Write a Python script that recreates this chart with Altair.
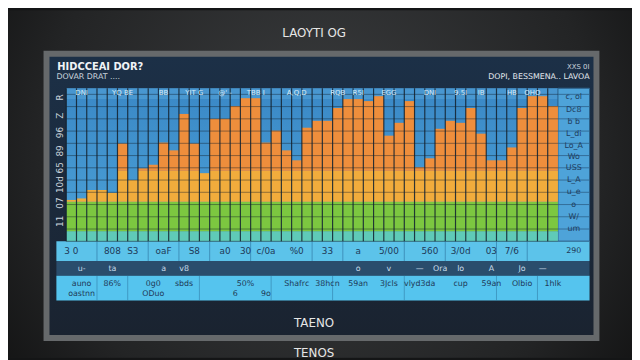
import altair as alt
import pandas as pd

# ---------------- data ----------------
categories = [f"B{i+1:02d}" for i in range(48)]
totals = [27, 28, 33.5, 33.5, 31.6, 63.9, 40, 47.7, 50, 64.5, 59.4, 83.2,
          63.9, 44.5, 80, 80, 88.4, 93.5, 93.5, 64.5, 72.3, 59.4, 52.9, 74.2,
          78.7, 78.7, 87.1, 92.9, 92.9, 91.6, 94.8, 69, 77.4, 91.6, 48.4, 54.2,
          73.5, 78.7, 77.4, 87.1, 70.3, 52.9, 52.9, 61.3, 87.1, 94.8, 94.8, 88.4]
teal_top = 6.5      # top of the teal base band
green_top = 25.8    # top of the green band
yellow_top = 46.0   # yellow -> orange change
grid_values = [0, 8, 16, 24, 32, 40, 48, 56, 64, 72, 80, 88, 96]

layer_names = ["teal", "green", "yellow", "orange"]
layer_colors = ["#5fcab8", "#7cc740", "#f1ac3c", "#ee8e3c"]

header_labels = ["DNI", "YQ BE", "BB", "YIT G", "@' -", "TBB I", "A,Q,D", "RQB",
                 "R5I", "EGG", "DNI", "9.5I", "IB", "HB", "OHO"]
header_cats = ["B02", "B06", "B10", "B13", "B16", "B19", "B23", "B27",
               "B29", "B32", "B36", "B39", "B41", "B44", "B46"]

row1_labels = ["3 0", "808", "S3", "oaF", "S8", "a0", "30", "c/0a", "%0",
               "33", "a", "5/00", "560", "3/0d", "03", "7/6"]
row1_cats = ["B01", "B05", "B07", "B10", "B13", "B16", "B18", "B20", "B23",
             "B26", "B29", "B32", "B36", "B39", "B42", "B44"]
row1_dividers = ["B04", "B09", "B12", "B15", "B19", "B25", "B28", "B34", "B38",
                 "B43", "B46"]

row2_labels = ["u-", "ta", "a", "v8", "o", "v", "—", "Ora", "lo", "A", "Jo", "—"]
row2_cats = ["B02", "B05", "B10", "B12", "B29", "B32", "B35", "B37", "B39",
             "B42", "B45", "B47"]

row3_labels = ["auno", "86%", "0g0", "sbds", "50%", "Shafrc", "38hcn",
               "59an", "3Jcls", "vlyd3da", "cup", "59an", "Olbio", "1hlk"]
row3_cats = ["B02", "B05", "B09", "B12", "B18", "B23", "B26", "B29", "B32",
             "B35", "B39", "B42", "B45", "B48"]
row3b_labels = ["oastnn", "ODuo", "6", "9o"]
row3b_cats = ["B02", "B09", "B17", "B20"]
row3_dividers = ["B04", "B07", "B14", "B21", "B27", "B34", "B43", "B47"]

left_labels = ["R", "Z", "96", "89", "65", "10d", "07", "11"]
left_vals = [94, 82, 71, 59, 48, 37, 25, 13]

right_labels = ["c, ol", "Dc8", "b b", "L_di", "Lo_A", "Wo", "USS", "L_A",
                "u_e", "o", "W/", "um"]
right_vals = [94, 86, 78, 70, 62, 55, 48, 40, 32, 24, 16, 8]

# ---------------- tables ----------------
rows = []
for c, t in zip(categories, totals):
    segs = [
        min(t, teal_top),
        max(0, min(t, green_top) - teal_top),
        max(0, min(t, yellow_top) - green_top),
        max(0, t - yellow_top),
    ]
    for k, (name, v) in enumerate(zip(layer_names, segs)):
        rows.append({"cat": c, "layer": name, "ord": k, "value": v})
bars_df = pd.DataFrame(rows)

deco = pd.DataFrame({"d": [0]})
FONT = "DejaVu Sans"
GRID = "#13202c"

x_scale = alt.Scale(domain=categories, paddingInner=0, paddingOuter=0)
y_scale = alt.Scale(domain=[0, 100], nice=False)


def rect(x1, y1, x2, y2, fill, **kw):
    return alt.Chart(deco).mark_rect(fill=fill, **kw).encode(
        x=alt.value(x1), x2=alt.value(x2), y=alt.value(y1), y2=alt.value(y2))


def label(txt, x, y, size=9, color="#e8eef2", align="center", weight="normal", **kw):
    return alt.Chart(deco).mark_text(
        text=txt, fontSize=size, color=color, align=align, baseline="middle",
        font=FONT, fontWeight=weight, **kw).encode(x=alt.value(x), y=alt.value(y))


def cat_text(labels, cats, y, size=8, color="#1d3550"):
    df = pd.DataFrame({"cat": cats, "t": labels})
    return alt.Chart(df).mark_text(fontSize=size, color=color, font=FONT,
                                   baseline="middle").encode(
        x=alt.X("cat:N", scale=x_scale, axis=None),
        y=alt.value(y), text="t:N")


def cat_rules(cats, y1, y2, color=GRID, opacity=0.85, width=1.2):
    df = pd.DataFrame({"cat": cats})
    return alt.Chart(df).mark_rule(color=color, opacity=opacity,
                                   strokeWidth=width).encode(
        x=alt.X("cat:N", scale=x_scale, axis=None, bandPosition=0),
        y=alt.value(y1), y2=alt.value(y2))


def value_rules(vals, x1, x2, color=GRID, opacity=0.45, width=1):
    df = pd.DataFrame({"v": vals})
    return alt.Chart(df).mark_rule(color=color, opacity=opacity,
                                   strokeWidth=width).encode(
        y=alt.Y("v:Q", scale=y_scale, axis=None),
        x=alt.value(x1), x2=alt.value(x2))


bg = rect(-59, -79, 573, 273, {
    "gradient": "radial", "x1": 0.5, "y1": 0.45, "x2": 0.5, "y2": 0.45,
    "r1": 0, "r2": 0.75,
    "stops": [{"offset": 0, "color": "#3c3e40"},
              {"offset": 0.6, "color": "#232425"},
              {"offset": 1, "color": "#070707"}]})
frame = rect(-23, -38, 540, 256, "#66696b")
panel = rect(-17, -32, 534, 250, {
    "gradient": "linear", "x1": 0, "y1": 0, "x2": 0, "y2": 1,
    "stops": [{"offset": 0, "color": "#1c3047"},
              {"offset": 1, "color": "#1a2330"}]})
plot_bg = rect(0, 0, 498, 155, {
    "gradient": "linear", "x1": 0, "y1": 0, "x2": 0, "y2": 1,
    "stops": [{"offset": 0, "color": "#3a88c6"},
              {"offset": 1, "color": "#4ca2d8"}]})
head_strip = rect(0, 0, 498, 11, "#5aa8dc", opacity=0.45)
right_panel = rect(498, 0, 530, 155, "#4ea3d9", stroke="#2c5f88", strokeWidth=1)
row1 = rect(-10, 155, 530, 175, "#5cc3ea")
row2 = rect(-10, 175, 530, 190, "#2a4d6c")
row3 = rect(-10, 190, 530, 215, "#55c4ee")

bars = alt.Chart(bars_df).mark_bar().encode(
    x=alt.X("cat:N", scale=x_scale, sort=categories, axis=None),
    y=alt.Y("value:Q", stack="zero", scale=y_scale, axis=None),
    color=alt.Color("layer:N", legend=None,
                    scale=alt.Scale(domain=layer_names, range=layer_colors)),
    order=alt.Order("ord:Q"),
)

left_df = pd.DataFrame({"t": left_labels, "v": left_vals})
left_text = alt.Chart(left_df).mark_text(
    fontSize=9, color="#c9d3dc", angle=270, font=FONT, baseline="middle").encode(
    x=alt.value(-6), y=alt.Y("v:Q", scale=y_scale, axis=None), text="t:N")

right_df = pd.DataFrame({"t": right_labels, "v": right_vals})
right_text = alt.Chart(right_df).mark_text(
    fontSize=8, color="#1e3d5e", font=FONT, baseline="middle").encode(
    x=alt.value(514), y=alt.Y("v:Q", scale=y_scale, axis=None), text="t:N")

layers = [
    bg, frame, panel, plot_bg, head_strip, right_panel, row1, row2, row3,
    bars,
    value_rules(grid_values, 0, 498),
    value_rules(grid_values, 498, 530, color="#2c5f88", opacity=0.8),
    cat_rules(categories, 0, 155),
    cat_rules(row1_dividers, 155, 175, color="#2a6f9a", opacity=0.6, width=1),
    cat_rules(row3_dividers, 190, 215, color="#2a6f9a", opacity=0.5, width=1),
    cat_text(header_labels, header_cats, 5, size=7, color="#d9ecf8"),
    cat_text(row1_labels, row1_cats, 165, size=9, color="#1f3a58"),
    cat_text(row2_labels, row2_cats, 183, size=8, color="#c9dcea"),
    cat_text(row3_labels, row3_cats, 198, size=8, color="#1f3a58"),
    cat_text(row3b_labels, row3b_cats, 208, size=8, color="#1f3a58"),
    left_text, right_text,
    label("290", 514, 165, size=8, color="#1f3a58"),
    label("LAOYTI OG", 251, -56, size=12, color="#e6e6e6"),
    label("HIDCCEAI DOR?", -9, -21, size=10, color="#f0f3f6", align="left", weight="bold"),
    label("DOVAR DRAT ....", -10, -11, size=8, color="#c9d3dc", align="left"),
    label("XXS 0I", 530, -21, size=7, color="#c9d3dc", align="right"),
    label("DOPI, BESSMENA..   LAVOA", 530, -11, size=8, color="#e0e6ec", align="right"),
    label("TAENO", 251, 238, size=12, color="#e6e6e6"),
    label("TENOS", 251, 268, size=12, color="#e6e6e6"),
]

chart = alt.layer(*layers).properties(
    width=498, height=155,
    autosize=alt.AutoSizeParams(type="none"),
    padding={"left": 59, "top": 79, "right": 75, "bottom": 118},
    background="#141516",
).configure_view(stroke=None)

chart.save("out.html", embed_options={"renderer": "svg", "actions": False})
